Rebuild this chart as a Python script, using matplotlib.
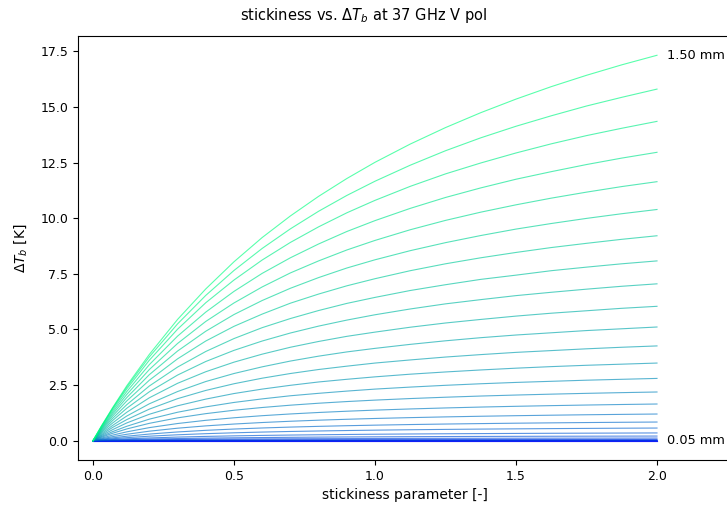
#Section 1: Imports
import numpy as np
import matplotlib
matplotlib.use("Agg")
import matplotlib.pyplot as plt

#Section 2: Data (delta Tb in K at each stickiness value)
stickiness = [0, 0.03, 0.07, 0.12, 0.2, 0.3, 0.4, 0.5, 0.6, 0.7, 0.8, 0.9, 1.0,
              1.125, 1.25, 1.375, 1.5, 1.625, 1.75, 1.875, 2.0]

grain_sizes = [0.05, 0.10, 0.15, 0.20, 0.25, 0.30, 0.35, 0.40, 0.45, 0.50,
               0.55, 0.60, 0.65, 0.70, 0.75, 0.80, 0.85, 0.90, 0.95, 1.00,
               1.05, 1.10, 1.15, 1.20, 1.25, 1.30, 1.35, 1.40, 1.45, 1.50]

dtb_005 = [0] * 21
dtb_010 = [0] * 21
dtb_015 = [0, 0, 0, 0, 0, 0, 0, 0, 0, 0, 0.001, 0.001, 0.001, 0.001, 0.001, 0.001, 0.001, 0.001, 0.001, 0.001, 0.001]
dtb_020 = [0, 0, 0, 0, 0.001, 0.001, 0.001, 0.001, 0.001, 0.001, 0.002, 0.002, 0.002, 0.002, 0.002, 0.002, 0.002, 0.002, 0.002, 0.002, 0.002]
dtb_025 = [0, 0, 0.001, 0.001, 0.002, 0.002, 0.003, 0.003, 0.003, 0.004, 0.004, 0.004, 0.004, 0.004, 0.004, 0.005, 0.005, 0.005, 0.005, 0.005, 0.005]
dtb_030 = [0, 0.001, 0.002, 0.003, 0.004, 0.006, 0.007, 0.008, 0.008, 0.009, 0.009, 0.010, 0.010, 0.010, 0.011, 0.011, 0.011, 0.011, 0.012, 0.012, 0.012]
dtb_035 = [0, 0.002, 0.005, 0.007, 0.011, 0.014, 0.017, 0.019, 0.020, 0.022, 0.023, 0.024, 0.025, 0.026, 0.027, 0.028, 0.028, 0.029, 0.029, 0.030, 0.03]
dtb_040 = [0, 0.004, 0.009, 0.015, 0.021, 0.028, 0.033, 0.038, 0.041, 0.044, 0.046, 0.048, 0.05, 0.052, 0.054, 0.055, 0.056, 0.057, 0.058, 0.059, 0.06]
dtb_045 = [0, 0.008, 0.018, 0.029, 0.043, 0.056, 0.067, 0.075, 0.082, 0.088, 0.092, 0.096, 0.10, 0.104, 0.107, 0.110, 0.113, 0.115, 0.117, 0.118, 0.12]
dtb_050 = [0, 0.015, 0.032, 0.051, 0.075, 0.098, 0.117, 0.131, 0.143, 0.153, 0.162, 0.169, 0.175, 0.182, 0.188, 0.193, 0.197, 0.201, 0.204, 0.207, 0.21]
dtb_055 = [0, 0.025, 0.054, 0.085, 0.125, 0.164, 0.194, 0.219, 0.239, 0.255, 0.269, 0.281, 0.292, 0.303, 0.313, 0.321, 0.328, 0.335, 0.340, 0.345, 0.35]
dtb_060 = [0, 0.040, 0.088, 0.138, 0.204, 0.267, 0.317, 0.356, 0.389, 0.416, 0.438, 0.458, 0.475, 0.493, 0.509, 0.523, 0.534, 0.545, 0.554, 0.563, 0.57]
dtb_065 = [0, 0.059, 0.129, 0.203, 0.300, 0.394, 0.467, 0.525, 0.573, 0.613, 0.646, 0.675, 0.70, 0.727, 0.75, 0.77, 0.788, 0.803, 0.817, 0.829, 0.84]
dtb_070 = [0, 0.085, 0.184, 0.290, 0.429, 0.563, 0.667, 0.75, 0.818, 0.875, 0.923, 0.964, 1.0, 1.038, 1.071, 1.10, 1.125, 1.147, 1.167, 1.184, 1.20]
dtb_075 = [0, 0.117, 0.253, 0.399, 0.589, 0.773, 0.917, 1.031, 1.125, 1.203, 1.269, 1.326, 1.375, 1.428, 1.473, 1.513, 1.547, 1.577, 1.604, 1.628, 1.65]
dtb_080 = [0, 0.155, 0.336, 0.530, 0.782, 1.027, 1.217, 1.369, 1.493, 1.597, 1.685, 1.760, 1.825, 1.895, 1.955, 2.008, 2.053, 2.093, 2.129, 2.161, 2.19]
dtb_085 = [0, 0.19, 0.41, 0.65, 0.97, 1.28, 1.52, 1.72, 1.88, 2.02, 2.13, 2.23, 2.32, 2.41, 2.49, 2.56, 2.62, 2.67, 2.72, 2.76, 2.80]
dtb_090 = [0, 0.23, 0.50, 0.80, 1.19, 1.57, 1.87, 2.12, 2.32, 2.49, 2.64, 2.76, 2.87, 2.99, 3.09, 3.18, 3.26, 3.33, 3.39, 3.44, 3.49]
dtb_095 = [0, 0.27, 0.60, 0.95, 1.42, 1.89, 2.26, 2.56, 2.81, 3.02, 3.20, 3.35, 3.49, 3.63, 3.76, 3.87, 3.97, 4.05, 4.13, 4.20, 4.26]
dtb_100 = [0, 0.32, 0.69, 1.11, 1.66, 2.21, 2.66, 3.02, 3.32, 3.58, 3.80, 3.99, 4.15, 4.33, 4.49, 4.63, 4.75, 4.85, 4.95, 5.03, 5.11]
dtb_105 = [0, 0.37, 0.80, 1.28, 1.93, 2.58, 3.10, 3.53, 3.89, 4.20, 4.46, 4.69, 4.88, 5.10, 5.29, 5.45, 5.60, 5.73, 5.84, 5.95, 6.04]
dtb_110 = [0, 0.41, 0.91, 1.46, 2.20, 2.95, 3.56, 4.06, 4.48, 4.84, 5.15, 5.42, 5.66, 5.92, 6.15, 6.34, 6.52, 6.67, 6.81, 6.94, 7.05]
dtb_115 = [0, 0.46, 1.01, 1.62, 2.46, 3.31, 4.01, 4.59, 5.08, 5.49, 5.85, 6.17, 6.44, 6.75, 7.01, 7.25, 7.44, 7.64, 7.80, 7.95, 8.08]
dtb_120 = [0, 0.50, 1.11, 1.79, 2.72, 3.68, 4.48, 5.14, 5.69, 6.18, 6.59, 6.96, 7.28, 7.64, 7.95, 8.22, 8.46, 8.68, 8.87, 9.05, 9.21]
dtb_125 = [0, 0.54, 1.20, 1.94, 2.97, 4.03, 4.92, 5.67, 6.30, 6.85, 7.33, 7.76, 8.13, 8.54, 8.90, 9.22, 9.51, 9.76, 9.99, 10.20, 10.39]
dtb_130 = [0, 0.57, 1.28, 2.08, 3.20, 4.37, 5.36, 6.19, 6.91, 7.54, 8.08, 8.57, 9.00, 9.48, 9.90, 10.27, 10.60, 10.90, 11.17, 11.42, 11.64]
dtb_135 = [0, 0.61, 1.36, 2.21, 3.42, 4.70, 5.78, 6.71, 7.52, 8.22, 8.84, 9.40, 9.89, 10.44, 10.93, 11.36, 11.75, 12.09, 12.41, 12.70, 12.96]
dtb_140 = [0, 0.64, 1.43, 2.33, 3.62, 5.01, 6.20, 7.22, 8.12, 8.91, 9.61, 10.24, 10.80, 11.43, 11.99, 12.48, 12.93, 13.34, 13.71, 14.04, 14.35]
dtb_145 = [0, 0.65, 1.47, 2.41, 3.77, 5.25, 6.53, 7.65, 8.64, 9.52, 10.31, 11.02, 11.66, 12.38, 13.03, 13.61, 14.13, 14.60, 15.04, 15.43, 15.80]
dtb_150 = [0, 0.66, 1.49, 2.47, 3.88, 5.45, 6.82, 8.04, 9.13, 10.10, 10.98, 11.78, 12.51, 13.33, 14.07, 14.74, 15.35, 15.91, 16.42, 16.89, 17.32]

curves = [dtb_005, dtb_010, dtb_015, dtb_020, dtb_025, dtb_030, dtb_035, dtb_040,
          dtb_045, dtb_050, dtb_055, dtb_060, dtb_065, dtb_070, dtb_075, dtb_080,
          dtb_085, dtb_090, dtb_095, dtb_100, dtb_105, dtb_110, dtb_115, dtb_120,
          dtb_125, dtb_130, dtb_135, dtb_140, dtb_145, dtb_150]

#Section 3: Plot
fig = plt.figure(figsize=(7.27, 5.07), dpi=100)
ax = fig.add_axes([0.1073, 0.0927, 0.8996, 0.8363])

cmap = plt.get_cmap("winter")
n = len(grain_sizes)
for i, (d, dtb) in enumerate(zip(grain_sizes, curves)):
    ax.plot(stickiness, dtb, color=cmap(i / (n - 1)), linewidth=0.8, alpha=0.65)

# end labels for smallest and largest grain
ax.text(stickiness[-1] + 0.035, dtb_150[-1], f"{grain_sizes[-1]:.2f} mm",
        va="center", ha="left", fontsize=9.3)
ax.text(stickiness[-1] + 0.035, dtb_005[-1], f"{grain_sizes[0]:.2f} mm",
        va="center", ha="left", fontsize=9.3)

ax.set_xlim(-0.053, 2.266)
ax.set_xticks([0.0, 0.5, 1.0, 1.5, 2.0])
ax.tick_params(labelsize=9)
ax.set_xlabel("stickiness parameter [-]", fontsize=10)
ax.set_ylabel(r"$\Delta T_b$ [K]", fontsize=10, labelpad=8)
fig.text(0.5, 0.970, r"stickiness vs. $\Delta T_b$ at 37 GHz V pol",
         ha="center", va="center", fontsize=10.5)

fig.savefig("out.png", dpi=100)
plt.close()
print("Saved: out.png")
